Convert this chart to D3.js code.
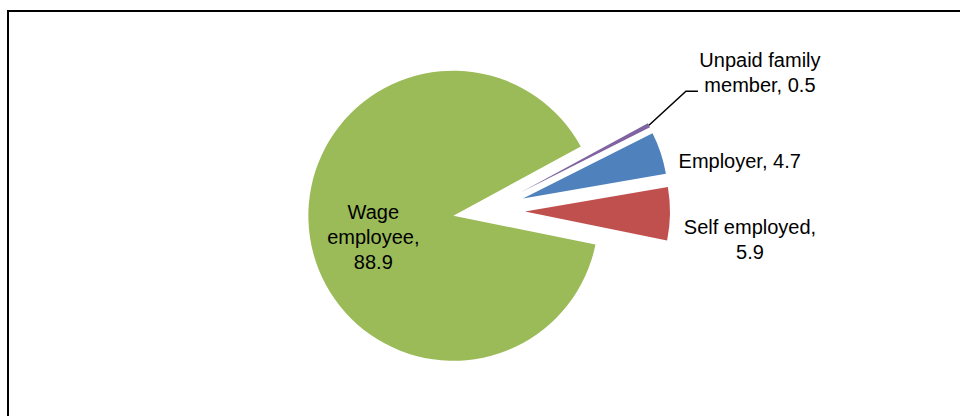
<!DOCTYPE html>
<html>
<head>
<meta charset="utf-8">
<script src="https://cdn.jsdelivr.net/npm/d3@7"></script>
<style>
  html, body { margin: 0; padding: 0; background: #fff; }
  svg { display: block; }
  text { font-family: "Liberation Sans", Arial, sans-serif; fill: #000; }
</style>
</head>
<body>
<svg id="chart" width="960" height="416"></svg>
<script>
// ---- data (clockwise order, starting with the thin purple slice) ----
const categories = ["Unpaid family member", "Employer", "Self employed", "Wage employee"];
const values = [0.5, 4.7, 5.9, 88.9];
const labelLines = [
  ["Unpaid family", "member, 0.5"],
  ["Employer, 4.7"],
  ["Self employed,", "5.9"],
  ["Wage", "employee,", "88.9"]
];
const colors = ["#8064A2", "#4F81BD", "#C0504D", "#9BBB59"];

// ---- layout ----
const W = 960, H = 416;
const cx = 485, cy = 211;
const radius = 145;
const startDeg = 61.5;
const explode = [40, 40, 40, 32];
const fontSize = 20, lineH = 25;

const svg = d3.select("#chart");

// chart border (extends past the right/bottom edges)
svg.append("rect")
  .attr("x", 8).attr("y", 11)
  .attr("width", W + 20).attr("height", H + 20)
  .attr("fill", "none").attr("stroke", "#000").attr("stroke-width", 2);

const data = categories.map((c, i) => ({ name: c, value: values[i], lines: labelLines[i], color: colors[i] }));

const pie = d3.pie().value(d => d.value).sort(null)
  .startAngle(startDeg * Math.PI / 180)
  .endAngle(startDeg * Math.PI / 180 + 2 * Math.PI);
const arcs = pie(data);
const arc = d3.arc().innerRadius(0).outerRadius(radius);

function dir(a) { return [Math.sin(a), -Math.cos(a)]; }

const g = svg.append("g").attr("transform", `translate(${cx},${cy})`);

arcs.forEach((a, i) => {
  const mid = (a.startAngle + a.endAngle) / 2;
  const [dx, dy] = dir(mid);
  a.ox = dx * explode[i];
  a.oy = dy * explode[i];
  a.mid = mid;
});

g.selectAll("path.slice")
  .data(arcs)
  .join("path")
  .attr("class", "slice")
  .attr("transform", d => `translate(${d.ox},${d.oy})`)
  .attr("d", arc)
  .attr("fill", d => d.data.color);

// label placement (relative to each slice's outer mid point)
const labelOffsets = [
  { dx: 111, dy: -53 },   // unpaid (with leader)
  { dx: 79, dy: 8 },      // employer
  { dx: 80, dy: 26 },     // self employed
  { dx: 6, dy: 8 }        // wage (inside, relative to 0.6r point)
];

arcs.forEach((a, i) => {
  const [ux, uy] = dir(a.mid);
  let lx, ly;
  if (i === 3) {
    lx = a.ox + ux * radius * 0.6 + labelOffsets[i].dx;
    ly = a.oy + uy * radius * 0.6 + labelOffsets[i].dy;
  } else {
    const outerX = a.ox + ux * radius, outerY = a.oy + uy * radius;
    lx = outerX + labelOffsets[i].dx;
    ly = outerY + labelOffsets[i].dy;
    if (i === 0) {
      const kx = outerX + 37, ky = outerY - 34;
      g.append("path")
        .attr("d", d3.line()([[outerX, outerY], [kx, ky], [kx + 12, ky]]))
        .attr("fill", "none").attr("stroke", "#000").attr("stroke-width", 1.5);
    }
  }
  const n = a.data.lines.length;
  const t = g.append("text")
    .attr("text-anchor", "middle")
    .attr("font-size", fontSize);
  a.data.lines.forEach((ln, k) => {
    t.append("tspan")
      .attr("x", lx)
      .attr("y", ly + (k - (n - 1) / 2) * lineH)
      .attr("dy", "0.35em")
      .text(ln);
  });
});
</script>
</body>
</html>
